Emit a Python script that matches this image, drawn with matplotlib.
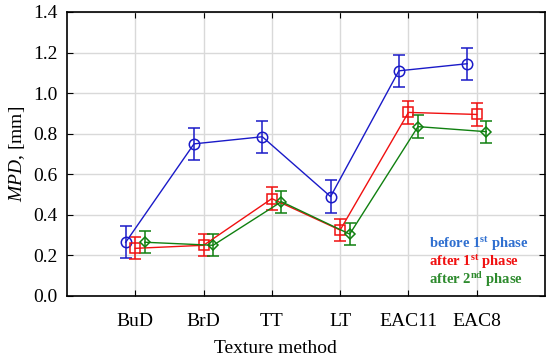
import numpy as np
import matplotlib
matplotlib.use("Agg")
import matplotlib.pyplot as plt

plt.rcParams['font.family'] = ['Liberation Serif', 'DejaVu Serif']
plt.rcParams['mathtext.fontset'] = 'custom'
plt.rcParams['mathtext.rm'] = 'Liberation Serif'
plt.rcParams['mathtext.it'] = 'Liberation Serif:italic'
plt.rcParams['mathtext.bf'] = 'Liberation Serif:bold'

methods = ['BuD', 'BrD', 'TT', 'LT', 'EAC11', 'EAC8']
before1 = [0.265, 0.75, 0.785, 0.49, 1.11, 1.145]
before1_err = [0.08, 0.08, 0.08, 0.08, 0.08, 0.08]
after1 = [0.235, 0.25, 0.48, 0.325, 0.905, 0.895]
after1_err = [0.055, 0.055, 0.055, 0.055, 0.055, 0.055]
after2 = [0.265, 0.25, 0.465, 0.305, 0.835, 0.81]
after2_err = [0.055, 0.055, 0.055, 0.055, 0.055, 0.055]

x = np.arange(1, len(methods) + 1)

fig = plt.figure(figsize=(5.5, 3.61), dpi=100)
ax = fig.add_axes([67/550, 1 - 296/361, (545-67)/550, (296-12)/361])

ax.errorbar(x - 0.14, before1, yerr=before1_err, color='#1a1ac8', marker='o', ms=7.5,
            mfc='none', mew=1.1, lw=1, capsize=4, elinewidth=1.1, zorder=3)
ax.errorbar(x, after1, yerr=after1_err, color='#f01010', marker='s', ms=7.5,
            mfc='none', mew=1.1, lw=1, capsize=4, elinewidth=1.1, zorder=3)
ax.errorbar(x + 0.14, after2, yerr=after2_err, color='#108010', marker='D', ms=5,
            mfc='none', mew=1.1, lw=1, capsize=4, elinewidth=1.1, zorder=3)

ax.set_xlim(0, 7)
ax.set_ylim(0, 1.4)
ax.set_xticks(x)
ax.set_xticklabels(methods)
ax.set_yticks(np.arange(0, 1.41, 0.2))
ax.set_yticklabels(['%.1f' % v for v in np.arange(0, 1.41, 0.2)])
ax.grid(True, color='#d9d9d9', lw=1)
ax.set_axisbelow(True)
ax.tick_params(direction='in', top=True, right=True, labelsize=14, length=4, pad=7)
ax.tick_params(axis='x', pad=12)
for s in ax.spines.values():
    s.set_linewidth(1.2)

ax.set_xlabel('Texture method', fontsize=14, labelpad=7)
ax.xaxis.set_label_coords((275 - 67) / (545 - 67), -0.155)
ax.set_ylabel(r'$\it{MPD}$, [mm]', fontsize=14, labelpad=4)

ax.text(0.757, 0.168, r'before 1$^{\mathbf{st}}$ phase', transform=ax.transAxes,
        color='#2f6fd0', fontsize=10.5, fontweight='bold')
ax.text(0.757, 0.105, r'after 1$^{\mathbf{st}}$ phase', transform=ax.transAxes,
        color='#f01010', fontsize=10.5, fontweight='bold')
ax.text(0.757, 0.042, r'after 2$^{\mathbf{nd}}$ phase', transform=ax.transAxes,
        color='#2e8b2e', fontsize=10.5, fontweight='bold')

fig.savefig('out.png', dpi=100)
